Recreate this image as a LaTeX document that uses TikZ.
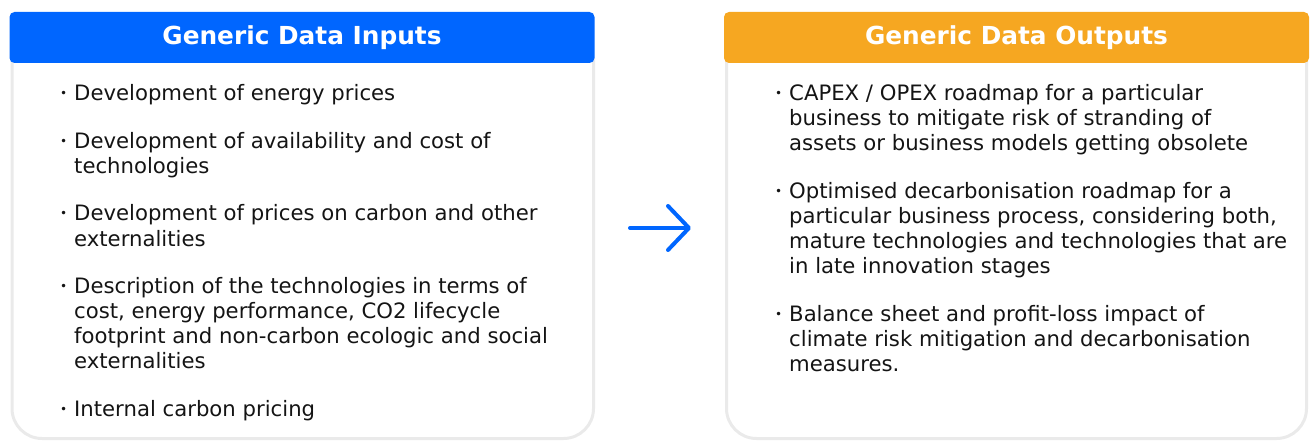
\documentclass[tikz,border=0pt]{standalone}
\usepackage{fontspec}
\setmainfont{DejaVu Sans}
\usetikzlibrary{arrows.meta,positioning}
\usepackage{xcolor}
\definecolor{inBlue}{RGB}{0,102,255}
\definecolor{outOrange}{RGB}{246,167,33}
\definecolor{frameGray}{RGB}{234,234,234}
\definecolor{itemInk}{RGB}{20,20,20}
\newcommand{\ItemGap}{22.5pt}
\newcommand{\ItemWidth}{540pt}
\newcommand{\BulletIndent}{14pt}
\newcommand{\itemfont}{\fontsize{21.2}{25}\selectfont}
\newcommand{\headfont}{\fontsize{24.8}{28}\selectfont\bfseries}
\newcommand{\Bul}[1]{%
  % bullet, then the lines of the item hanging beside it
  \makebox[\BulletIndent][l]{\raisebox{3pt}{\fontsize{12}{12}\selectfont\textbullet}}%
  \parbox[t]{\ItemWidth}{\raggedright\strut#1\strut}}
\newcommand{\BodyFrame}[2]{%
  % #1 left x, #2 right x
  \draw[frame] (#1,58) -- (#1,438.5) -- (#2,438.5) -- (#2,58);
}

\begin{document}
\begin{tikzpicture}[
  x=1pt, y=-1pt,
  head/.style={rounded corners=5pt, fill=#1, text=white, font=\headfont,
    minimum width=585pt, minimum height=51pt, inner sep=0pt},
  item/.style={inner sep=0pt, font=\itemfont, text=itemInk},
  frame/.style={draw=frameGray, line width=3pt, rounded corners=30pt},
  flow/.style={draw=inBlue, line width=4pt, line cap=round,
    -{Straight Barb[length=21pt,width=44pt,line cap=round,line join=round]}}
]
\useasboundingbox (0,0) rectangle (1310,441);

% Frames
\BodyFrame{12}{593.5}
\BodyFrame{726.5}{1306.5}

% Headers
\node[head=inBlue] (inhead) at (302,37.5) {Generic Data Inputs};
\node[head=outOrange] (outhead) at (1016.5,37.5) {Generic Data Outputs};

% Inputs
\node[item, anchor=north west] (in1) at (60,82.5)
  {\Bul{Development of energy prices}};
\node[item, below=\ItemGap of in1] (in2)
  {\Bul{Development of availability and cost of\\technologies}};
\node[item, below=\ItemGap of in2] (in3)
  {\Bul{Development of prices on carbon and other\\externalities}};
\node[item, below=\ItemGap of in3] (in4)
  {\Bul{Description of the technologies in terms of\\cost, energy performance, CO2 lifecycle\\footprint and non-carbon ecologic and social\\externalities}};
\node[item, below=\ItemGap of in4] (in5)
  {\Bul{Internal carbon pricing}};

% Outputs
\node[item, anchor=north west] (out1) at (775,82.5)
  {\Bul{CAPEX / OPEX roadmap for a particular\\business to mitigate risk of stranding of\\assets or business models getting obsolete}};
\node[item, below=\ItemGap of out1] (out2)
  {\Bul{Optimised decarbonisation roadmap for a\\particular business process, considering both,\\mature technologies and technologies that are\\in late innovation stages}};
\node[item, below=\ItemGap of out2] (out3)
  {\Bul{Balance sheet and profit-loss impact of\\climate risk mitigation and decarbonisation\\measures.}};

% Arrow
\coordinate (arrowtail) at (630,228);
\coordinate (arrowtip) at (691,228);
\draw[flow] (arrowtail) -- (arrowtip);

\end{tikzpicture}
\end{document}
